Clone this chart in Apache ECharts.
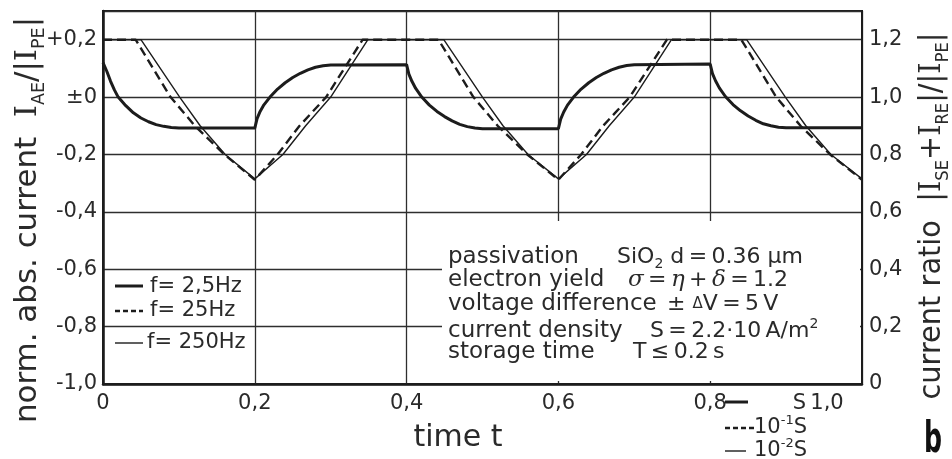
<!DOCTYPE html>
<html>
<head>
<meta charset="utf-8">
<script src="https://cdn.jsdelivr.net/npm/echarts@6/dist/echarts.min.js"></script>
<style>
  html, body { margin: 0; padding: 0; background: #ffffff; }
  #chart { width: 952px; height: 459px; }
</style>
</head>
<body>
<div id="chart"></div>
<script>
// Axis ticks and their printed labels
const timeTicks = [0, 0.2, 0.4, 0.6, 0.8, 1.0];
const timeTickLabels = ['0', '0,2', '0,4', '0,6', '0,8', '1,0'];
const currentTicks = [-1.0, -0.8, -0.6, -0.4, -0.2, 0, 0.2];
const currentTickLabels = ['-1,0', '-0,8', '-0,6', '-0,4', '-0,2', '±0', '+0,2'];
const ratioTicks = [0, 0.2, 0.4, 0.6, 0.8, 1.0, 1.2];
const ratioTickLabels = ['0', '0,2', '0,4', '0,6', '0,8', '1,0', '1,2'];

// f = 2,5 Hz (storage time S)
const timeSlow = [0, 0.005, 0.01, 0.015, 0.02, 0.03, 0.04, 0.05, 0.06, 0.07, 0.08, 0.09, 0.1,
  0.2, 0.203, 0.207, 0.212, 0.22, 0.23, 0.24, 0.25, 0.26, 0.27, 0.28, 0.29, 0.3,
  0.4, 0.403, 0.407, 0.412, 0.42, 0.43, 0.44, 0.45, 0.46, 0.47, 0.48, 0.49, 0.5,
  0.6, 0.603, 0.607, 0.612, 0.62, 0.63, 0.64, 0.65, 0.66, 0.67, 0.68, 0.69, 0.7,
  0.8, 0.803, 0.807, 0.812, 0.82, 0.83, 0.84, 0.85, 0.86, 0.87, 0.88, 0.89, 0.9, 1.0];
const currentSlow = [0.12, 0.09, 0.055, 0.025, 0.0, -0.03, -0.055, -0.073, -0.086, -0.096, -0.102, -0.106, -0.108,
  -0.108, -0.075, -0.05, -0.027, 0.0, 0.028, 0.05, 0.068, 0.083, 0.095, 0.104, 0.109, 0.112,
  0.113, 0.08, 0.055, 0.03, 0.0, -0.028, -0.05, -0.068, -0.083, -0.095, -0.103, -0.108, -0.11,
  -0.11, -0.077, -0.052, -0.028, 0.0, 0.028, 0.05, 0.068, 0.083, 0.095, 0.104, 0.11, 0.113,
  0.115, 0.082, 0.057, 0.032, 0.002, -0.026, -0.048, -0.066, -0.081, -0.093, -0.1, -0.105, -0.107, -0.107];

// f = 25 Hz (storage time 10^-1 s)
const timeMid = [0, 0.043, 0.089, 0.121, 0.16, 0.2, 0.23, 0.259, 0.294, 0.342,
  0.442, 0.488, 0.52, 0.559, 0.6, 0.63, 0.659, 0.694, 0.743,
  0.841, 0.887, 0.919, 0.958, 1.0];
const currentMid = [0.2, 0.2, 0.0, -0.1, -0.2, -0.288, -0.2, -0.1, 0.0, 0.2,
  0.2, 0.0, -0.1, -0.2, -0.288, -0.2, -0.1, 0.0, 0.2,
  0.2, 0.0, -0.1, -0.2, -0.288];

// f = 250 Hz (storage time 10^-2 s)
const timeFast = [0, 0.05, 0.101, 0.128, 0.161, 0.2, 0.237, 0.267, 0.3, 0.349,
  0.449, 0.5, 0.527, 0.56, 0.6, 0.637, 0.667, 0.7, 0.749,
  0.848, 0.899, 0.926, 0.959, 1.0];
const currentFast = [0.2, 0.2, 0.0, -0.1, -0.2, -0.285, -0.2, -0.1, 0.0, 0.2,
  0.2, 0.0, -0.1, -0.2, -0.285, -0.2, -0.1, 0.0, 0.2,
  0.2, 0.0, -0.1, -0.2, -0.285];

const FONT = 'DejaVu Sans';
const INK = '#1c1c1c';
const TEXT = '#2a2a2a';

function pairs(xs, ys) { return xs.map((x, k) => [x, ys[k]]); }
function lookup(ticks, labels, v) {
  for (let k = 0; k < ticks.length; k++) {
    if (Math.abs(ticks[k] - v) < 1e-6) return labels[k];
  }
  return '';
}

const chart = echarts.init(document.getElementById('chart'), null, { renderer: 'canvas' });

const subRich = {
  I: { fontFamily: 'DejaVu Serif', fontSize: 30, color: TEXT, lineHeight: 40 },
  sub: { fontFamily: FONT, fontSize: 17, color: TEXT, lineHeight: 18, verticalAlign: 'bottom' }
};
const NOTE = '23px "DejaVu Sans"';

const graphics = [
  // white panel behind the parameter notes
  { type: 'rect', z: 5, shape: { x: 442, y: 221, width: 418, height: 160 }, style: { fill: '#ffffff' } },

  // parameter notes
  { type: 'text', z: 6, x: 448, y: 257, style: { text: 'passivation', font: NOTE, fill: TEXT, verticalAlign: 'middle' } },
  { type: 'text', z: 6, x: 617, y: 257, style: { text: '{n|SiO}{s|2} d\u2009=\u20090.36 µm', fill: TEXT, verticalAlign: 'middle',
      rich: { n: { fontFamily: FONT, fontSize: 22, lineHeight: 28 }, s: { fontFamily: FONT, fontSize: 14, lineHeight: 13, verticalAlign: 'bottom' } },
      fontFamily: FONT, fontSize: 22, lineHeight: 28 } },
  { type: 'text', z: 6, x: 448, y: 280, style: { text: 'electron yield', font: NOTE, fill: TEXT, verticalAlign: 'middle' } },
  { type: 'text', z: 6, x: 628, y: 280, style: { text: '{g|σ}\u2009=\u2009{g|η}\u2009+\u2009{g|δ}\u2009=\u20091.2', fill: TEXT, verticalAlign: 'middle',
      fontFamily: FONT, fontSize: 22, rich: { g: { fontFamily: 'DejaVu Serif', fontStyle: 'italic', fontSize: 23 } } } },
  { type: 'text', z: 6, x: 448, y: 304, style: { text: 'voltage difference', font: NOTE, fill: TEXT, verticalAlign: 'middle' } },
  { type: 'text', z: 6, x: 667, y: 304, style: { text: '± {d|Δ}V\u2009=\u20095\u2009V', fill: TEXT, verticalAlign: 'middle',
      fontFamily: FONT, fontSize: 22, rich: { d: { fontFamily: FONT, fontSize: 15 } } } },
  { type: 'text', z: 6, x: 448, y: 331, style: { text: 'current density', font: NOTE, fill: TEXT, verticalAlign: 'middle' } },
  { type: 'text', z: 6, x: 650, y: 331, style: { text: '{n|S\u2009=\u20092.2·10\u2009A/m}{p|2}', fill: TEXT, verticalAlign: 'middle',
      fontFamily: FONT, fontSize: 22,
      rich: { n: { fontFamily: FONT, fontSize: 22, lineHeight: 28 }, p: { fontFamily: FONT, fontSize: 14, lineHeight: 14, verticalAlign: 'top' } } } },
  { type: 'text', z: 6, x: 448, y: 352, style: { text: 'storage time', font: NOTE, fill: TEXT, verticalAlign: 'middle' } },
  { type: 'text', z: 6, x: 633, y: 352, style: { text: 'T\u2009≤\u20090.2\u2009s', font: '22px "DejaVu Sans"', fill: TEXT, verticalAlign: 'middle' } },

  // frequency key
  { type: 'line', z: 6, shape: { x1: 115, y1: 286, x2: 143, y2: 286 }, style: { stroke: INK, lineWidth: 3 } },
  { type: 'text', z: 6, x: 150, y: 287, style: { text: 'f= 2,5Hz', font: '21px "DejaVu Sans"', fill: TEXT, verticalAlign: 'middle' } },
  { type: 'line', z: 6, shape: { x1: 115, y1: 311, x2: 143, y2: 311 }, style: { stroke: INK, lineWidth: 2.3, lineDash: [5, 3] } },
  { type: 'text', z: 6, x: 150, y: 311, style: { text: 'f= 25Hz', font: '21px "DejaVu Sans"', fill: TEXT, verticalAlign: 'middle' } },
  { type: 'line', z: 6, shape: { x1: 115, y1: 343, x2: 143, y2: 343 }, style: { stroke: INK, lineWidth: 1.4 } },
  { type: 'text', z: 6, x: 147, y: 343, style: { text: 'f= 250Hz', font: '21px "DejaVu Sans"', fill: TEXT, verticalAlign: 'middle' } },

  // storage-time key
  { type: 'line', z: 6, shape: { x1: 725, y1: 402, x2: 748, y2: 402 }, style: { stroke: INK, lineWidth: 3 } },
  { type: 'text', z: 6, x: 806, y: 404, style: { text: 'S', font: '21px "DejaVu Sans"', fill: TEXT, align: 'right', verticalAlign: 'middle' } },
  { type: 'line', z: 6, shape: { x1: 725, y1: 428, x2: 757, y2: 428 }, style: { stroke: INK, lineWidth: 2.3, lineDash: [5, 3] } },
  { type: 'text', z: 6, x: 807, y: 428, style: { text: '10{p|-1}S', fill: TEXT, align: 'right', verticalAlign: 'middle',
      fontFamily: FONT, fontSize: 21, lineHeight: 28, rich: { p: { fontFamily: FONT, fontSize: 13, lineHeight: 14, verticalAlign: 'top' } } } },
  { type: 'line', z: 6, shape: { x1: 725, y1: 451, x2: 746, y2: 451 }, style: { stroke: INK, lineWidth: 1.4 } },
  { type: 'text', z: 6, x: 807, y: 451, style: { text: '10{p|-2}S', fill: TEXT, align: 'right', verticalAlign: 'middle',
      fontFamily: FONT, fontSize: 21, lineHeight: 28, rich: { p: { fontFamily: FONT, fontSize: 13, lineHeight: 14, verticalAlign: 'top' } } } },

  // axis titles
  { type: 'text', z: 6, x: 28, y: 220, rotation: Math.PI / 2, scaleX: 1.03, style: {
      text: 'norm. abs. current  {I|I}{sub|AE}/|{I|I}{sub|PE}|', fill: TEXT, align: 'center', verticalAlign: 'middle',
      fontFamily: FONT, fontSize: 30, lineHeight: 40, rich: subRich } },
  { type: 'text', z: 6, x: 932, y: 216, rotation: Math.PI / 2, scaleX: 0.96, style: {
      text: 'current ratio  |{I|I}{sub|SE}+{I|I}{sub|RE}|/|{I|I}{sub|PE}|', fill: TEXT, align: 'center', verticalAlign: 'middle',
      fontFamily: FONT, fontSize: 30, lineHeight: 40, rich: subRich } },
  { type: 'text', z: 6, x: 458, y: 438, style: { text: 'time t', font: '30px "DejaVu Sans"', fill: TEXT, align: 'center', verticalAlign: 'middle' } },

  // panel letter
  { type: 'text', z: 6, x: 933, y: 420, scaleX: 0.6, style: { text: 'b', font: 'bold 42px "DejaVu Sans"', fill: '#111', align: 'center', verticalAlign: 'top' } }
];

const option = {
  backgroundColor: '#ffffff',
  animation: false,
  grid: { left: 103, right: 90, top: 11, bottom: 75, show: true, borderColor: INK, borderWidth: 2, backgroundColor: 'transparent' },
  xAxis: {
    type: 'value', min: 0, max: 1, interval: 0.2,
    axisLine: { show: true, onZero: false, lineStyle: { color: INK, width: 2.5 } },
    axisTick: { show: false },
    splitLine: { show: true, lineStyle: { color: '#2e2e2e', width: 1.3 } },
    axisLabel: {
      margin: 9, color: TEXT, fontFamily: FONT, fontSize: 21,
      formatter: v => {
        const s = lookup(timeTicks, timeTickLabels, v);
        return Math.abs(v - 1) < 1e-6 ? '{last|' + s + '}' : s;
      },
      rich: { last: { fontFamily: FONT, fontSize: 21, color: TEXT, padding: [0, 70, 0, 0] } }
    }
  },
  yAxis: [
    {
      type: 'value', min: -1.0, max: 0.3, interval: 0.2, position: 'left',
      axisLine: { show: true, onZero: false, lineStyle: { color: INK, width: 2.5 } },
      axisTick: { show: false },
      splitLine: { show: true, lineStyle: { color: '#2e2e2e', width: 1.3 } },
      axisLabel: { margin: 6, color: TEXT, fontFamily: FONT, fontSize: 21,
        formatter: v => lookup(currentTicks, currentTickLabels, v) }
    },
    {
      type: 'value', min: 0, max: 1.3, interval: 0.2, position: 'right',
      axisLine: { show: true, onZero: false, lineStyle: { color: INK, width: 2 } },
      axisTick: { show: false },
      splitLine: { show: false },
      axisLabel: { margin: 7, color: TEXT, fontFamily: FONT, fontSize: 21,
        formatter: v => lookup(ratioTicks, ratioTickLabels, v) }
    }
  ],
  series: [
    { name: 'f= 250Hz', type: 'line', yAxisIndex: 0, data: pairs(timeFast, currentFast), symbol: 'none', z: 3,
      lineStyle: { color: INK, width: 1.4 } },
    { name: 'f= 25Hz', type: 'line', yAxisIndex: 0, data: pairs(timeMid, currentMid), symbol: 'none', z: 3,
      lineStyle: { color: INK, width: 2.4, type: [9, 5] } },
    { name: 'f= 2,5Hz', type: 'line', yAxisIndex: 0, data: pairs(timeSlow, currentSlow), symbol: 'none', z: 3,
      lineStyle: { color: INK, width: 3 } }
  ],
  graphic: graphics
};

chart.setOption(option);
</script>
</body>
</html>
